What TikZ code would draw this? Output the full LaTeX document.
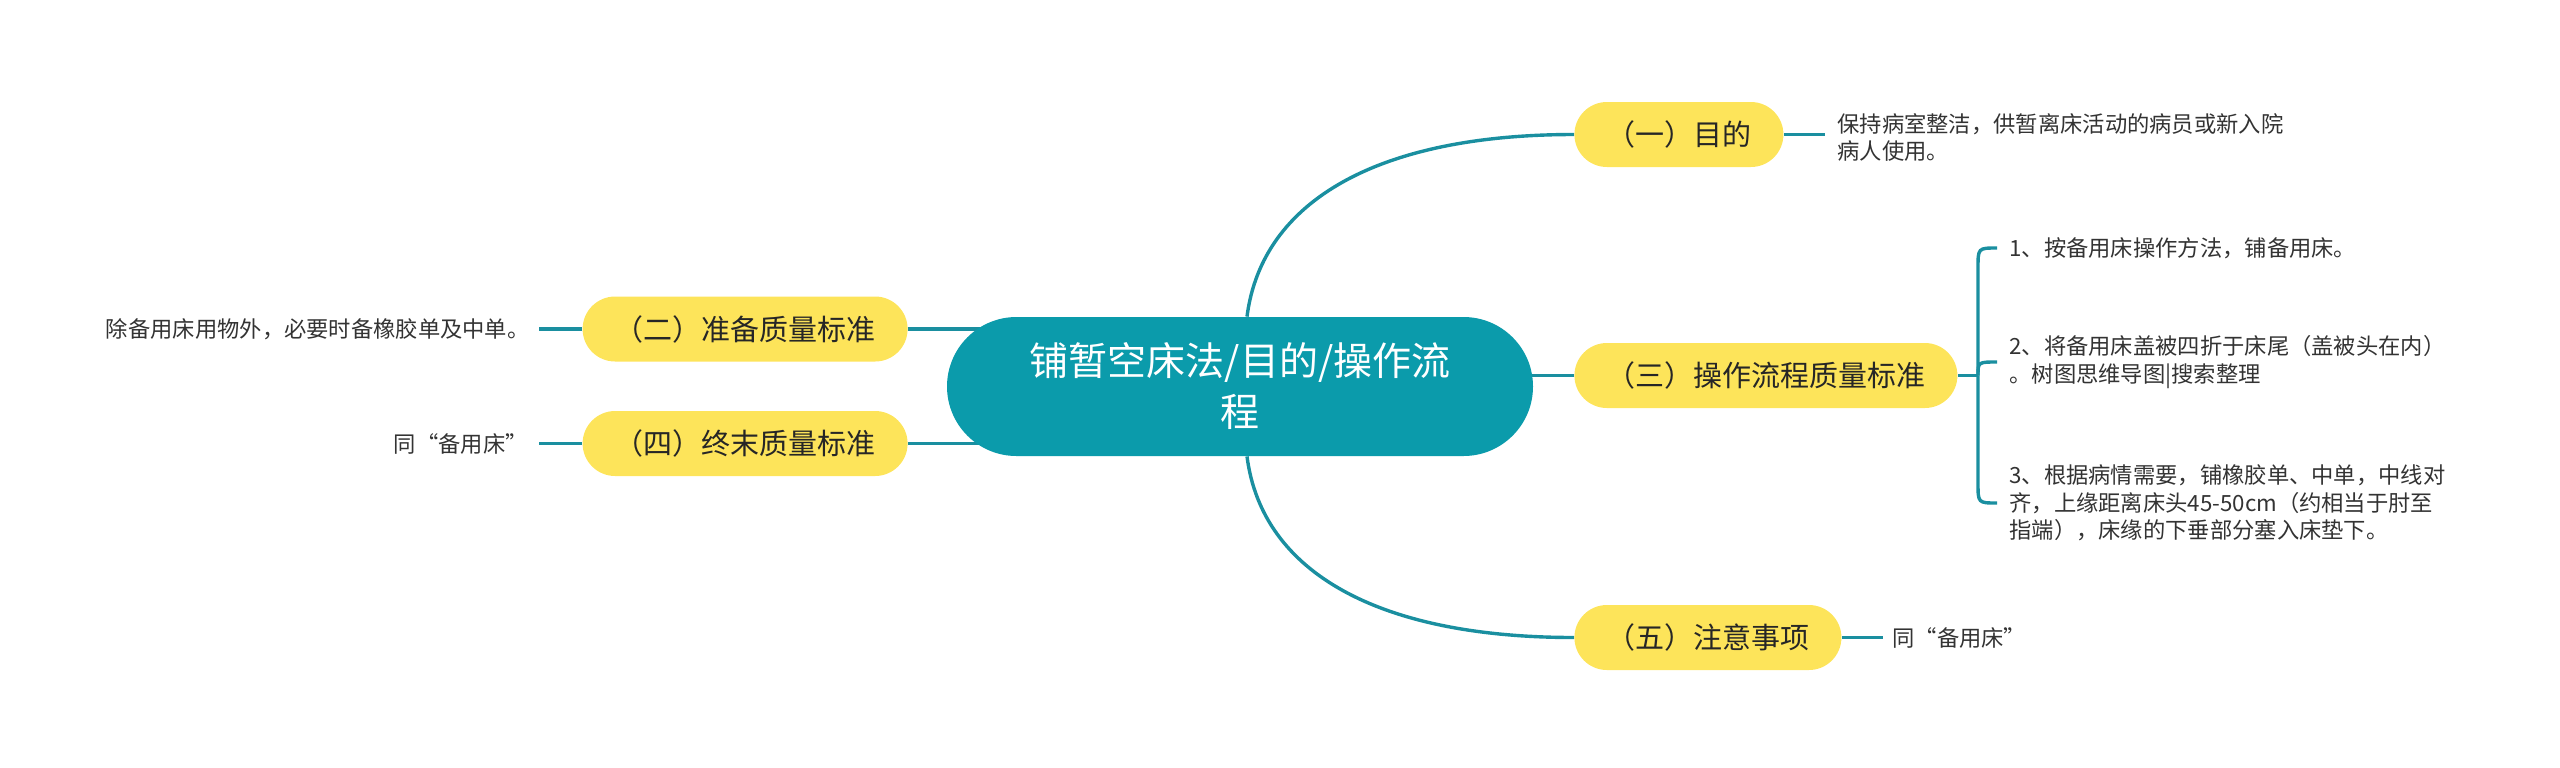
\documentclass[tikz,border=0pt]{standalone}
\usepackage{fontspec}
\setmainfont{Noto Sans CJK SC}
\usetikzlibrary{backgrounds,calc}
\definecolor{teal1}{HTML}{0B9BAB}
\definecolor{line1}{HTML}{1A8FA0}
\definecolor{yel}{HTML}{FDE45A}
\definecolor{txt}{HTML}{262626}
\definecolor{txt2}{HTML}{333333}
\begin{document}
\begin{tikzpicture}[x=0.5pt,y=-0.5pt,
  conn/.style={draw=line1, line width=1.7pt},
  mainnode/.style={fill=teal1, text=white, rounded corners=34.75pt, minimum width=293pt, minimum height=69.5pt, align=center, font=\fontsize{19.5pt}{25.5pt}\selectfont, inner sep=0pt},
  topic/.style={fill=yel, text=txt, rounded corners=16.25pt, minimum height=32.5pt, inner xsep=16pt, inner ysep=0pt, font=\fontsize{14.5pt}{17pt}\selectfont},
  leaf/.style={text=txt2, inner sep=0pt, align=left, font=\fontsize{11.15pt}{13.75pt}\selectfont},
]
\useasboundingbox (0,0) rectangle (2560,767);
\node[mainnode] (c) at (1240,386.5) {铺暂空床法/目的/操作流\\程};
\node[topic,anchor=west] (t1) at (1574,134.5) {（一）目的};
\node[topic,anchor=west] (t3) at (1574,375.5) {（三）操作流程质量标准};
\node[topic,anchor=west] (t5) at (1574,637.5) {（五）注意事项};
\node[topic,anchor=east] (t2) at (908,329) {（二）准备质量标准};
\node[topic,anchor=east] (t4) at (908,443.5) {（四）终末质量标准};

\node[leaf,anchor=west] (l1) at (1837,137.5) {保持病室整洁，供暂离床活动的病员或新入院\\病人使用。};
\node[leaf,anchor=west] (l5) at (1892,638) {同“备用床”};
\node[leaf,anchor=east] (l2) at (530,329) {除备用床用物外，必要时备橡胶单及中单。};
\node[leaf,anchor=east] (l4) at (528,443.5) {同“备用床”};
\node[leaf,anchor=west] (s1) at (2009,248) {1、按备用床操作方法，铺备用床。};
\node[leaf,anchor=west] (s2) at (2009,362) {2、将备用床盖被四折于床尾（盖被头在内）\\。树图思维导图|搜索整理};
\node[leaf,anchor=west] (s3) at (2009,503) {3、根据病情需要，铺橡胶单、中单，中线对\\齐，上缘距离床头45-50cm（约相当于肘至\\指端），床缘的下垂部分塞入床垫下。};
\coordinate (j) at (1978,375.5);

\begin{scope}[on background layer]
\draw[conn] ([xshift=3.5pt]c.north) .. controls +(15,-117) and +(-194,0) .. (t1.west);
\draw[conn] ([xshift=3.5pt]c.south) .. controls +(15,117) and +(-194,0) .. (t5.west);
\draw[conn] (t3.west) -- (c.center |- t3.west);
\draw[conn] (t2.east) -- (c.center |- t2.east);
\draw[conn] (t4.east) -- (c.center |- t4.east);
\draw[conn] (t1.east) -- ([xshift=-6pt]l1.west |- t1.east);
\draw[conn] (t5.east) -- ([xshift=-4.5pt]l5.west |- t5.east);
\draw[conn] (t2.west) -- ([xshift=4.5pt]l2.east |- t2.west);
\draw[conn] (t4.west) -- ([xshift=5.5pt]l4.east |- t4.west);
\draw[conn] (t3.east) -- (j);
\draw[conn] (j) -- ([yshift=-10pt]j |- s1.west) .. controls (j |- s1.west) .. ([xshift=-6pt]s1.west);
\draw[conn] (j) .. controls (j |- s2.west) .. ([xshift=-6pt]s2.west);
\draw[conn] (j) -- ([yshift=10pt]j |- s3.west) .. controls (j |- s3.west) .. ([xshift=-6pt]s3.west);
\end{scope}
\end{tikzpicture}
\end{document}
